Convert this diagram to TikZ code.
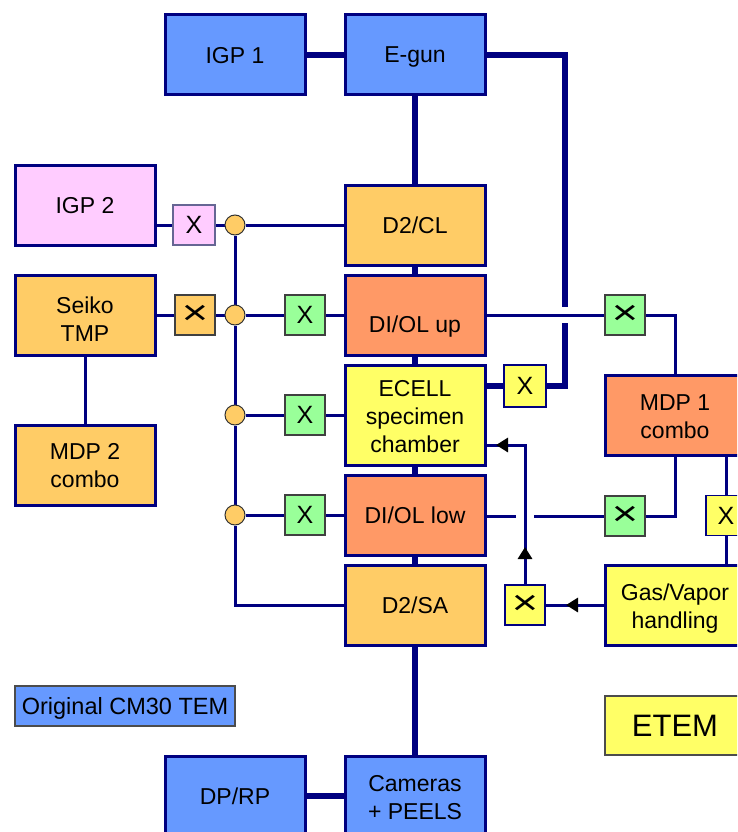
\documentclass[tikz,border=0pt]{standalone}
\usepackage{fontspec}
\setmainfont{Liberation Sans}
\usetikzlibrary{arrows.meta,calc}
\definecolor{navy}{HTML}{000080}
\definecolor{cblue}{HTML}{6699FF}
\definecolor{cpink}{HTML}{FFCCFF}
\definecolor{corange}{HTML}{FFCC66}
\definecolor{csalmon}{HTML}{FF9966}
\definecolor{cyellow}{HTML}{FFFF66}
\definecolor{cgreen}{HTML}{99FF99}
\pgfdeclarelayer{bg}
\pgfsetlayers{bg,main}
\newcommand{\vcross}{\scalebox{1.5}[1.15]{\fontsize{30}{30}\selectfont ×}}
\begin{document}
\begin{tikzpicture}[x=1pt,y=-1pt,
  box/.style={draw=navy, line width=3pt, minimum width=140pt, minimum height=80pt, inner sep=0pt, align=center, text depth=0pt, font=\fontsize{23}{28}\selectfont},
  xbox/.style={draw=black!75, line width=1.2pt, minimum width=40pt, minimum height=40pt, inner sep=0pt, font=\fontsize{25}{28}\selectfont},
  junc/.style={circle, draw=black!80, line width=1pt, fill=corange, minimum size=20pt, inner sep=0pt},
  thinline/.style={draw=navy, line width=3pt},
  thickline/.style={draw=navy, line width=6pt},
  arrowtip/.style={draw=navy, line width=3pt, -{Triangle[length=12pt 0 0,width=14pt 0 0,color=black,fill=black]}},
  lbl/.style={inner sep=0pt, align=center, font=\fontsize{23}{28}\selectfont}
]
\useasboundingbox (0,0) rectangle (737,832);
\clip (0,0) rectangle (737,832);

% main boxes
\node[box, fill=cblue] (igp1) at (235,55) {IGP 1};
\node[box, fill=cblue] (egun) at (415,55) {E-gun};
\node[box, fill=cpink] (igp2) at (85,205) {IGP 2};
\node[box, fill=corange] (seiko) at (85,315) {};
\node[lbl] (seikot) at (85,319) {Seiko\\TMP};
\node[box, fill=corange] (mdp2) at (85,465) {};
\node[lbl] (mdp2t) at (85,466) {MDP 2\\combo};
\node[box, fill=corange] (d2cl) at (415,225) {D2/CL};
\node[box, fill=csalmon] (diolup) at (415,315) {};
\node[lbl] (diolupt) at (415,327) {DI/OL up};
\node[box, fill=cyellow, minimum height=100pt] (ecell) at (415,415) {};
\node[lbl] (ecellt) at (415,417) {ECELL\\specimen\\chamber};
\node[box, fill=csalmon] (diollow) at (415,515) {DI/OL low};
\node[box, fill=corange] (d2sa) at (415,605) {D2/SA};
\node[box, fill=cblue] (cameras) at (415,796) {};
\node[lbl] (camerast) at (415,797.5) {Cameras\\+ PEELS};
\node[box, fill=cblue] (dprp) at (235,796) {DP/RP};
\node[box, fill=csalmon] (mdp1) at (675,415) {};
\node[lbl] (mdp1t) at (675,417) {MDP 1\\combo};
\node[box, fill=cyellow] (gas) at (675,605) {};
\node[lbl] (gast) at (675,608.5) {Gas/Vapor\\handling};

% legend
\node[draw=black!70, line width=1.2pt, fill=cblue, minimum width=220pt, minimum height=40pt, inner sep=0pt, text depth=0pt, font=\fontsize{23.5}{28}\selectfont] (legend) at (125,706) {Original CM30 TEM};
\node[draw=black!70, line width=1.2pt, fill=cyellow, minimum width=140pt, minimum height=59pt, inner sep=0pt, font=\fontsize{31}{36}\selectfont] (etem) at (675,725.5) {ETEM};

% valves
\node[xbox, fill=cpink, draw=navy!60!black!60, minimum width=42pt] (xp) at (194,225) {X};
\node[xbox, fill=corange] (xo) at (195,315) {\vcross};
\node[xbox, fill=cgreen] (xg1) at (305,315) {X};
\node[xbox, fill=cgreen] (xg2) at (305,415) {X};
\node[xbox, fill=cgreen] (xg3) at (305,515) {X};
\node[xbox, fill=cyellow, draw=navy, minimum width=42pt, minimum height=42pt] (xe) at (525,386) {X};
\node[xbox, fill=cgreen] (xr1) at (625,315) {\vcross};
\node[xbox, fill=cgreen] (xr2) at (625,516) {\vcross};
\node[xbox, fill=cyellow, draw=navy] (xr) at (726,515.5) {X};
\node[xbox, fill=cyellow, draw=navy] (xg) at (525,605) {\vcross};

% junctions
\node[junc] (c1) at (235,225) {};
\node[junc] (c2) at (235,315) {};
\node[junc] (c3) at (235,415) {};
\node[junc] (c4) at (235,515) {};

% free coordinates
\coordinate (gapTop) at (565,307);
\coordinate (gapBot) at (565,323);
\coordinate (gl1) at (534,516);
\coordinate (gl2) at (516,516);
\coordinate (k) at (525,445);
\coordinate (a1) at (566,605);
\coordinate (a2) at (525,547);
\coordinate (a3) at (496,445);

\begin{pgfonlayer}{bg}
% thick main column
\draw[thickline] (igp1.east) -- (egun.west);
\draw[thickline] (egun.south) -- (d2cl.north);
\draw[thickline] (d2cl.south) -- (diolup.north);
\draw[thickline] (diolup.south) -- (ecell.north);
\draw[thickline] (ecell.south) -- (diollow.north);
\draw[thickline] (diollow.south) -- (d2sa.north);
\draw[thickline] (d2sa.south) -- (cameras.north);
\draw[thickline] (dprp.east) -- (cameras.west);
\draw[thickline, line join=miter] (egun.east) -| (gapTop);
\draw[thickline, line join=miter] (gapBot) |- (xe.east);
\draw[thickline] (xe.west) -- (xe.west -| ecell.east);

% left side thin lines
\draw[thinline] (xp.west -| igp2.east) -- (xp.west);
\draw[thinline] (xp.east) -- (c1) -- (c1 -| d2cl.west);
\draw[thinline] (seiko.east) -- (xo.west);
\draw[thinline] (xo.east) -- (c2) -- (xg1.west);
\draw[thinline] (xg1.east) -- (diolup.west);
\draw[thinline] (c3) -- (xg2.west);
\draw[thinline] (xg2.east) -- (ecell.west);
\draw[thinline] (c4) -- (xg3.west);
\draw[thinline] (xg3.east) -- (diollow.west);
\draw[thinline] (seiko.south) -- (mdp2.north);
\draw[thinline, line join=miter] (c1) -- (c2) -- (c3) -- (c4) |- (d2sa.west);

% right side thin lines
\draw[thinline] (diolup.east) -- (xr1.west);
\draw[thinline, line join=miter] (xr1.east) -| (mdp1.north);
\draw[thinline, line join=miter] (mdp1.south) |- (xr2.east);
\draw[thinline] (xr2.west) -- (gl1);
\draw[thinline] (gl2) -- (gl2 -| diollow.east);
\draw[thinline] (xr.north |- mdp1.south) -- (xr.north);
\draw[thinline] (xr.south) -- (xr.south |- gas.north);
\draw[thinline] (gas.west) -- (xg.east);
\draw[thinline, line join=miter] (xg.north) -- (k) -- (k -| ecell.east);
\end{pgfonlayer}
\draw[arrowtip] (gas.west) -- (a1);
\draw[arrowtip] (xg.north) -- (a2);
\draw[arrowtip] (k) -- (a3);
\end{tikzpicture}
\end{document}
